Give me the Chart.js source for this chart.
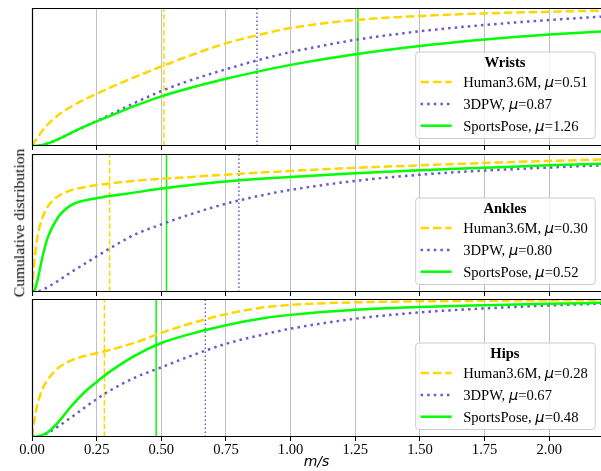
<!DOCTYPE html>
<html>
<head>
<meta charset="utf-8">
<script src="https://cdn.jsdelivr.net/npm/chart.js@4.4.1/dist/chart.umd.min.js"></script>
<style>
  html, body { margin: 0; padding: 0; background: #fff; }
  #wrap { position: relative; width: 601px; height: 471px; overflow: hidden; background: #fff; }
  #wrap canvas { position: absolute; left: 0; }
  #ylab {
    position: absolute; left: 18.7px; top: 222.5px;
    transform: translate(-50%, -50%) rotate(-90deg);
    font: 15.6px "Liberation Serif", serif; line-height: 1; white-space: nowrap; color: #000;
  }
</style>
</head>
<body>
<div id="wrap">
  <canvas id="wristsChart" width="601" height="150" style="top:0px"></canvas>
  <canvas id="anklesChart" width="601" height="150" style="top:146px"></canvas>
  <canvas id="hipsChart" width="601" height="180" style="top:291px"></canvas>
  <div id="ylab">Cumulative distribution</div>
</div>
<script>
// speed (m/s) where the cumulative curves are sampled
const speeds = [0, 0.01, 0.02, 0.04, 0.06, 0.1, 0.15, 0.2, 0.25, 0.3, 0.4, 0.5, 0.6, 0.75, 0.9, 1.0, 1.25, 1.5, 1.75, 2.0, 2.2];
const xTicks = [0, 0.25, 0.5, 0.75, 1.0, 1.25, 1.5, 1.75, 2.0];
const datasetNames = ['Human3.6M', '3DPW', 'SportsPose'];

// Wrists
const wristsH36M = [0, 0.03, 0.058, 0.11, 0.154, 0.222, 0.284, 0.334, 0.378, 0.421, 0.501, 0.576, 0.648, 0.744, 0.815, 0.855, 0.913, 0.942, 0.961, 0.973, 0.981];
const wrists3DPW = [0, 0.0005, 0.002, 0.008, 0.018, 0.048, 0.094, 0.138, 0.18, 0.225, 0.315, 0.398, 0.468, 0.556, 0.635, 0.68, 0.769, 0.831, 0.877, 0.913, 0.937];
const wristsSports = [0, 0.0005, 0.002, 0.008, 0.018, 0.048, 0.094, 0.138, 0.178, 0.216, 0.292, 0.36, 0.415, 0.487, 0.55, 0.588, 0.665, 0.725, 0.772, 0.808, 0.83];
const wristsMeans = [0.51, 0.87, 1.26];

// Ankles
const anklesH36M = [0, 0.236, 0.386, 0.536, 0.616, 0.692, 0.737, 0.759, 0.774, 0.787, 0.806, 0.82, 0.832, 0.85, 0.867, 0.877, 0.9, 0.918, 0.935, 0.95, 0.96];
const ankles3DPW = [0, 0.001, 0.004, 0.016, 0.035, 0.08, 0.142, 0.2, 0.258, 0.315, 0.418, 0.49, 0.555, 0.64, 0.705, 0.74, 0.805, 0.85, 0.88, 0.902, 0.918];
const anklesSports = [0, 0.012, 0.075, 0.25, 0.39, 0.54, 0.628, 0.662, 0.68, 0.695, 0.722, 0.75, 0.772, 0.8, 0.822, 0.834, 0.86, 0.882, 0.9, 0.918, 0.93];
const anklesMeans = [0.30, 0.80, 0.52];

// Hips
const hipsH36M = [0, 0.13, 0.23, 0.345, 0.413, 0.498, 0.553, 0.585, 0.607, 0.63, 0.685, 0.755, 0.815, 0.89, 0.94, 0.957, 0.976, 0.983, 0.987, 0.99, 0.991];
const hips3DPW = [0, 0.001, 0.003, 0.012, 0.028, 0.075, 0.14, 0.208, 0.275, 0.335, 0.432, 0.505, 0.578, 0.675, 0.745, 0.785, 0.857, 0.903, 0.932, 0.953, 0.966];
const hipsSports = [0, 0.001, 0.004, 0.014, 0.032, 0.104, 0.219, 0.319, 0.399, 0.472, 0.592, 0.681, 0.74, 0.81, 0.862, 0.885, 0.922, 0.942, 0.955, 0.966, 0.972];
const hipsMeans = [0.28, 0.67, 0.48];

const colors = ['gold', 'slateblue', 'lime'];
const curveDash = [[8.5, 3.8], [2.5, 4.1], []];
const meanDash = [[5.5, 2.4], [1.5, 2.5], []];
const SERIF = '"Liberation Serif", "Times New Roman", serif';

// axes frame (left, top, bottom spines; right one is outside the picture)
const framePlugin = {
  id: 'frame',
  afterDatasetsDraw(chart) {
    const { ctx, chartArea: a } = chart;
    ctx.save();
    ctx.strokeStyle = '#000';
    ctx.lineWidth = 1.2;
    ctx.beginPath();
    ctx.moveTo(a.right + 2, a.top + 0.5);
    ctx.lineTo(a.left + 0.5, a.top + 0.5);
    ctx.lineTo(a.left + 0.5, a.bottom - 0.5);
    ctx.lineTo(a.right + 2, a.bottom - 0.5);
    ctx.stroke();
    ctx.restore();
  }
};

// legend box in the lower right, matplotlib style
const boxLegend = {
  id: 'boxLegend',
  afterDraw(chart, args, opts) {
    const { ctx, chartArea: a } = chart;
    const w = 179.5, h = 86.5;
    const x = a.right - 6.3 - w, y = a.bottom - 8 - h;
    ctx.save();
    ctx.beginPath();
    ctx.roundRect(x + 0.5, y + 0.5, w, h, 3);
    ctx.fillStyle = 'rgba(255,255,255,0.8)';
    ctx.fill();
    ctx.strokeStyle = '#cccccc';
    ctx.lineWidth = 1;
    ctx.stroke();

    ctx.fillStyle = '#000';
    ctx.textBaseline = 'alphabetic';
    ctx.textAlign = 'center';
    ctx.font = 'bold 14.6px ' + SERIF;
    ctx.fillText(opts.title, x + w / 2, y + 15);

    ctx.textAlign = 'left';
    opts.means.forEach((mu, i) => {
      const base = y + 35.6 + i * 21.8;
      ctx.save();
      ctx.strokeStyle = colors[i];
      ctx.lineWidth = 2.5;
      ctx.setLineDash(curveDash[i]);
      ctx.beginPath();
      ctx.moveTo(x + 5.4, base - 5);
      ctx.lineTo(x + 36.4, base - 5);
      ctx.stroke();
      ctx.restore();

      let tx = x + 48;
      const part1 = datasetNames[i] + ', ';
      ctx.font = '14.6px ' + SERIF;
      ctx.fillText(part1, tx, base);
      tx += ctx.measureText(part1).width;
      ctx.font = 'italic 14.6px "DejaVu Sans"';
      ctx.fillText('\u03bc', tx, base);
      tx += ctx.measureText('\u03bc').width;
      ctx.font = '14.6px ' + SERIF;
      ctx.fillText('=' + mu.toFixed(2), tx, base);
    });
    ctx.restore();
  }
};

function makePanel(canvasId, title, series, means, isBottom) {
  const curves = series.map((vals, i) => ({
    label: datasetNames[i],
    data: speeds.map((s, k) => ({ x: s, y: vals[k] })),
    borderColor: colors[i],
    borderWidth: 2.5,
    borderDash: curveDash[i],
    pointRadius: 0,
    cubicInterpolationMode: 'monotone',
    fill: false,
    order: 2 - i
  }));
  const meanLines = means.map((mu, i) => ({
    label: datasetNames[i] + ' mean',
    data: [{ x: mu, y: 0 }, { x: mu, y: 1 }],
    borderColor: colors[i],
    borderWidth: 1.5,
    borderDash: meanDash[i],
    pointRadius: 0,
    fill: false,
    order: 5 - i
  }));

  return new Chart(document.getElementById(canvasId), {
    type: 'line',
    data: { datasets: curves.concat(meanLines) },
    plugins: [framePlugin, boxLegend],
    options: {
      responsive: false,
      animation: false,
      events: [],
      layout: { padding: { top: 8, left: 32, right: 0, bottom: 0 } },
      plugins: {
        legend: { display: false },
        tooltip: { enabled: false },
        boxLegend: { title: title, means: means }
      },
      scales: {
        x: {
          type: 'linear',
          min: 0,
          max: 2.2,
          afterBuildTicks: s => { s.ticks = xTicks.map(v => ({ value: v })); },
          afterFit: s => { s.height = isBottom ? 34 : 4; },
          grid: { color: '#c0c0c0', lineWidth: 1, tickColor: '#000', tickLength: 4, drawTicks: true },
          border: { display: false },
          ticks: {
            display: isBottom,
            autoSkip: false,
            maxRotation: 0,
            padding: 0,
            color: '#000',
            font: { family: SERIF, size: 14.6 },
            callback: v => Number(v).toFixed(2)
          },
          title: {
            display: isBottom,
            text: 'm/s',
            color: '#000',
            padding: { top: 0, bottom: 0 },
            font: { family: '"DejaVu Sans"', style: 'italic', size: 14 }
          }
        },
        y: { display: false, min: 0, max: 1 }
      }
    }
  });
}

makePanel('wristsChart', 'Wrists', [wristsH36M, wrists3DPW, wristsSports], wristsMeans, false);
makePanel('anklesChart', 'Ankles', [anklesH36M, ankles3DPW, anklesSports], anklesMeans, false);
makePanel('hipsChart', 'Hips', [hipsH36M, hips3DPW, hipsSports], hipsMeans, true);
</script>
</body>
</html>
